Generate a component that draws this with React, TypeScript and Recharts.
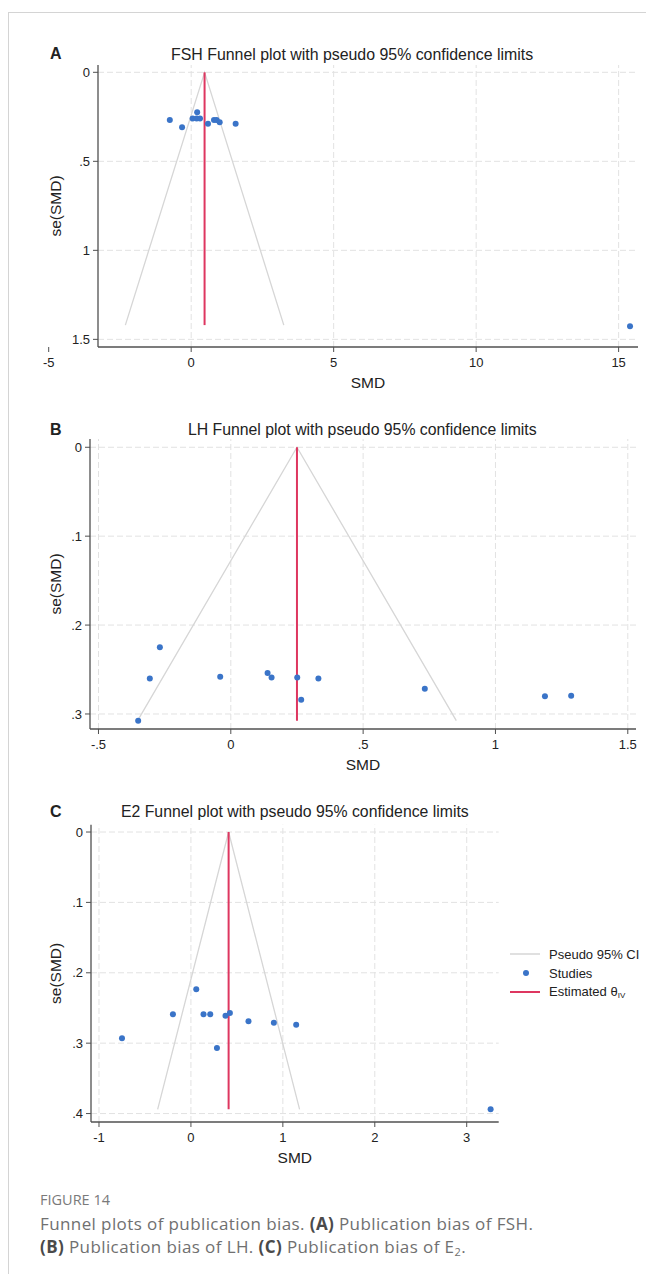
import React from 'react';
import { ScatterChart, Scatter, XAxis, YAxis, ReferenceLine } from 'recharts';

const FONT = '"Liberation Sans", Arial, sans-serif';
const CAPTION_FONT = '"Open Sans", "Noto Sans", sans-serif';
const DOT = '#3a74c8';
const THETA = '#de3660';
const FUNNEL = '#d6d6d6';
const GRID = '#e2e2e2';
const AXIS = '#505050';

// FSH panel
const fshSmd = [-0.75, -0.32, 0.05, 0.19, 0.31, 0.21, 0.59, 0.8, 0.89, 1.0, 1.56, 15.4];
const fshSe = [0.268, 0.308, 0.259, 0.259, 0.259, 0.225, 0.289, 0.268, 0.268, 0.28, 0.289, 1.427];
const fshFunnelSmd = [-2.31, 0.47, 3.25];
const fshFunnelSe = [1.42, 0, 1.42];
const fshThetaSmd = [0.47, 0.47];
const fshThetaSe = [0, 1.42];
const fshXTicks = [-5, 0, 5, 10, 15];
const fshYTicks = [0, 0.5, 1, 1.5];

// LH panel
const lhSmd = [-0.268, -0.306, -0.35, -0.04, 0.139, 0.154, 0.251, 0.266, 0.331, 0.733, 1.187, 1.286];
const lhSe = [0.225, 0.26, 0.3075, 0.258, 0.254, 0.259, 0.259, 0.284, 0.26, 0.2716, 0.28, 0.2795];
const lhFunnelSmd = [-0.352, 0.25, 0.852];
const lhFunnelSe = [0.3075, 0, 0.3075];
const lhThetaSmd = [0.25, 0.25];
const lhThetaSe = [0, 0.3075];
const lhXTicks = [-0.5, 0, 0.5, 1, 1.5];
const lhYTicks = [0, 0.1, 0.2, 0.3];

// E2 panel
const e2Smd = [-0.75, 0.058, -0.196, 0.137, 0.21, 0.376, 0.424, 0.283, 0.626, 0.902, 1.145, 3.26];
const e2Se = [0.293, 0.2235, 0.259, 0.259, 0.259, 0.261, 0.257, 0.307, 0.269, 0.271, 0.274, 0.394];
const e2FunnelSmd = [-0.362, 0.41, 1.182];
const e2FunnelSe = [0.394, 0, 0.394];
const e2ThetaSmd = [0.41, 0.41];
const e2ThetaSe = [0, 0.394];
const e2XTicks = [-1, 0, 1, 2, 3];
const e2YTicks = [0, 0.1, 0.2, 0.3, 0.4];

const zip = (xs: number[], ys: number[]) => xs.map((x, i) => ({ x, y: ys[i] }));

// stata style: drop the leading zero (.5, -.5)
const fmt = (v: number) => String(v).replace(/^(-?)0\./, '$1.');

const noShape = () => <g />;
const dotShape = (p: any) => <circle cx={p.cx} cy={p.cy} r={3} fill={DOT} />;

function Txt({ x, y, size, weight, color, children, font, spacing }: any) {
  return (
    <div
      style={{
        position: 'absolute',
        left: x,
        top: y - size / 2,
        fontSize: size,
        lineHeight: `${size}px`,
        fontWeight: weight || 400,
        color: color || '#222',
        fontFamily: font || FONT,
        letterSpacing: spacing || 0,
        whiteSpace: 'nowrap',
      }}
    >
      {children}
    </div>
  );
}

function FunnelPanel({
  top, height, width, margin, yAxisWidth, xAxisHeight,
  xDomain, yDomain, xTicks, yTicks, points, funnel, theta,
}: any) {
  const tickStyle = { fontSize: 13, fill: '#222', fontFamily: FONT };
  const inX = xTicks.filter((t: number) => t >= xDomain[0] && t <= xDomain[1]);
  return (
    <div style={{ position: 'absolute', left: 0, top }}>
      <ScatterChart width={width} height={height} margin={margin}>
        <XAxis
          type="number"
          dataKey="x"
          domain={xDomain}
          ticks={xTicks}
          interval={0}
          allowDataOverflow
          height={xAxisHeight}
          tickFormatter={fmt}
          tick={tickStyle}
          tickSize={5}
          tickMargin={6}
          axisLine={{ stroke: AXIS, strokeWidth: 1.3 }}
          tickLine={{ stroke: AXIS, strokeWidth: 1 }}
          label={(p: any) => (
            <text
              x={p.viewBox.x + p.viewBox.width / 2}
              y={p.viewBox.y + 35.5}
              textAnchor="middle"
              dominantBaseline="central"
              fontSize={15.5}
              fontFamily={FONT}
              fill="#222"
            >
              SMD
            </text>
          )}
        />
        <YAxis
          type="number"
          dataKey="y"
          domain={yDomain}
          ticks={yTicks}
          interval={0}
          allowDataOverflow
          reversed
          width={yAxisWidth}
          tickFormatter={fmt}
          tick={tickStyle}
          tickSize={5}
          tickMargin={3}
          axisLine={{ stroke: AXIS, strokeWidth: 1.3 }}
          tickLine={{ stroke: AXIS, strokeWidth: 1 }}
          label={(p: any) => {
            const cy = p.viewBox.y + p.viewBox.height / 2;
            return (
              <text
                x={55.5}
                y={cy}
                transform={`rotate(-90, 55.5, ${cy})`}
                textAnchor="middle"
                dominantBaseline="central"
                fontSize={15.5}
                fontFamily={FONT}
                fill="#222"
              >
                se(SMD)
              </text>
            );
          }}
        />
        {yTicks.map((t: number) => (
          <ReferenceLine key={'gy' + t} y={t} stroke={GRID} strokeDasharray="6 3" />
        ))}
        {inX.map((t: number) => (
          <ReferenceLine key={'gx' + t} x={t} stroke={GRID} strokeDasharray="6 3" />
        ))}
        <Scatter
          data={funnel}
          line={{ stroke: FUNNEL, strokeWidth: 1.3 }}
          shape={noShape}
          isAnimationActive={false}
        />
        <Scatter
          data={theta}
          line={{ stroke: THETA, strokeWidth: 2 }}
          shape={noShape}
          isAnimationActive={false}
        />
        <Scatter data={points} shape={dotShape} isAnimationActive={false} />
      </ScatterChart>
    </div>
  );
}

function LegendRow({ y, kind, children }: any) {
  return (
    <div style={{ position: 'absolute', left: 510, top: y - 8, height: 16, display: 'flex', alignItems: 'center' }}>
      <svg width={34} height={16}>
        {kind === 'line' && <line x1={0} x2={30} y1={8} y2={8} stroke={FUNNEL} strokeWidth={1.5} />}
        {kind === 'dot' && <circle cx={16} cy={8} r={3} fill={DOT} />}
        {kind === 'theta' && <line x1={0} x2={30} y1={8} y2={8} stroke={THETA} strokeWidth={2} />}
      </svg>
      <span style={{ marginLeft: 5, fontSize: 13, fontFamily: FONT, color: '#222', whiteSpace: 'nowrap' }}>
        {children}
      </span>
    </div>
  );
}

export default function App() {
  const bold = { color: '#4a4a4a', fontWeight: 700 };
  return (
    <div style={{ position: 'absolute', left: 0, top: 0, width: 646, height: 1274, background: '#fff', overflow: 'hidden' }}>
      <div
        style={{
          position: 'absolute',
          left: 8,
          top: 12,
          width: 646,
          height: 1274,
          borderLeft: '1px solid #d4d4d4',
          borderTop: '1px solid #d4d4d4',
        }}
      />

      {/* A */}
      <FunnelPanel
        top={0}
        height={400}
        width={646}
        margin={{ top: 65, right: 8, bottom: 0, left: 0 }}
        yAxisWidth={98}
        xAxisHeight={53}
        xDomain={[-3.27, 15.68]}
        yDomain={[-0.041, 1.543]}
        xTicks={fshXTicks}
        yTicks={fshYTicks}
        points={zip(fshSmd, fshSe)}
        funnel={zip(fshFunnelSmd, fshFunnelSe)}
        theta={zip(fshThetaSmd, fshThetaSe)}
      />
      <Txt x={50} y={54} size={16} weight={700}>A</Txt>
      <Txt x={171} y={55} size={15.9}>FSH Funnel plot with pseudo 95% confidence limits</Txt>

      {/* B */}
      <FunnelPanel
        top={380}
        height={400}
        width={646}
        margin={{ top: 59, right: 10, bottom: 0, left: 0 }}
        yAxisWidth={90}
        xAxisHeight={51}
        xDomain={[-0.532, 1.531]}
        yDomain={[-0.0093, 0.3169]}
        xTicks={lhXTicks}
        yTicks={lhYTicks}
        points={zip(lhSmd, lhSe)}
        funnel={zip(lhFunnelSmd, lhFunnelSe)}
        theta={zip(lhThetaSmd, lhThetaSe)}
      />
      <Txt x={50} y={430} size={16} weight={700}>B</Txt>
      <Txt x={188} y={430} size={15.8}>LH Funnel plot with pseudo 95% confidence limits</Txt>

      {/* C */}
      <FunnelPanel
        top={780}
        height={390}
        width={646}
        margin={{ top: 44.7, right: 147.3, bottom: 0, left: 0 }}
        yAxisWidth={91}
        xAxisHeight={48}
        xDomain={[-1.087, 3.348]}
        yDomain={[-0.0104, 0.412]}
        xTicks={e2XTicks}
        yTicks={e2YTicks}
        points={zip(e2Smd, e2Se)}
        funnel={zip(e2FunnelSmd, e2FunnelSe)}
        theta={zip(e2ThetaSmd, e2ThetaSe)}
      />
      <Txt x={50} y={812} size={16} weight={700}>C</Txt>
      <Txt x={121} y={812} size={15.8}>E2 Funnel plot with pseudo 95% confidence limits</Txt>

      <LegendRow y={954} kind="line">Pseudo 95% CI</LegendRow>
      <LegendRow y={973} kind="dot">Studies</LegendRow>
      <LegendRow y={992} kind="theta">
        Estimated θ<sub style={{ fontSize: 8, verticalAlign: -2 }}>IV</sub>
      </LegendRow>

      <Txt x={40} y={1200} size={14.5} color="#7a7a7a" font={CAPTION_FONT}>FIGURE 14</Txt>
      <Txt x={40} y={1223} size={17} color="#707070" font={CAPTION_FONT} spacing={0.4}>
        Funnel plots of publication bias. <span style={bold}>(A)</span> Publication bias of FSH.
      </Txt>
      <Txt x={40} y={1246} size={17} color="#707070" font={CAPTION_FONT} spacing={0.4}>
        <span style={bold}>(B)</span> Publication bias of LH. <span style={bold}>(C)</span> Publication bias of E
        <sub style={{ fontSize: 11, verticalAlign: -3 }}>2</sub>.
      </Txt>
    </div>
  );
}
